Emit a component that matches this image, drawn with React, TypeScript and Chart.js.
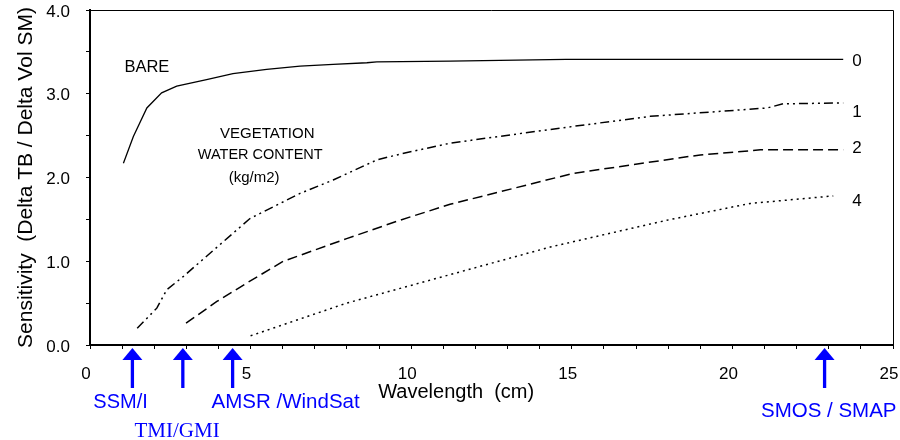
import React, { useEffect, useRef } from 'react';
import { Chart, registerables } from 'chart.js';

Chart.register(...registerables);

// ---- Data ----
const bareWavelength = [1.04, 1.35, 1.77, 2.23, 2.7, 3.63, 4.45, 5.5, 6.54, 7.57, 8.62, 8.93, 11.21, 14.82, 23.45];
const bareSensitivity = [2.17, 2.49, 2.83, 3.01, 3.09, 3.17, 3.24, 3.29, 3.33, 3.35, 3.37, 3.38, 3.39, 3.41, 3.41];

const vwc1Wavelength = [1.47, 2.08, 2.39, 2.91, 3.63, 4.98, 6.54, 7.57, 8.93, 9.66, 11.21, 14.84, 17.44, 21.08, 21.58, 23.45];
const vwc1Sensitivity = [0.2, 0.44, 0.66, 0.82, 1.06, 1.51, 1.81, 1.97, 2.21, 2.28, 2.41, 2.6, 2.73, 2.83, 2.88, 2.89];

const vwc2Wavelength = [2.99, 3.95, 4.88, 6.02, 7.99, 9.65, 11.21, 15.05, 19.0, 20.87, 23.45];
const vwc2Sensitivity = [0.26, 0.52, 0.74, 1.0, 1.27, 1.49, 1.68, 2.05, 2.27, 2.33, 2.33];

const vwc4Wavelength = [5.0, 7.99, 11.21, 14.33, 17.96, 20.55, 23.14];
const vwc4Sensitivity = [0.11, 0.5, 0.84, 1.17, 1.49, 1.69, 1.78];

const curveLabels = ['0', '1', '2', '4'];

const sensorNames = ['SSM/I', 'TMI/GMI', 'AMSR /WindSat', 'SMOS / SMAP'];
const sensorWavelength = [1.32, 2.89, 4.44, 22.87];

const xTickMin = 0;
const xTickMax = 25;
const yTickMin = 0;
const yTickMax = 4;

// ---- Layout / style (annotation placement) ----
const FONT = '"Liberation Sans", Arial, Helvetica, sans-serif';
const SERIF = '"Liberation Serif", "Times New Roman", serif';
const curveLabelX = 23.73;
const curveLabelY = [3.39, 2.78, 2.35, 1.72];
const sensorLabelCenterX = [0.95, 2.71, 6.09, 23.0];
const sensorLabelBaseline = [63, 92, 63, 72];
const sensorLabelFont = [`20px ${FONT}`, `21px ${SERIF}`, `20.5px ${FONT}`, `20.5px ${FONT}`];
const innerTexts = [
  { text: 'BARE', x: 1.77, y: 3.31, font: `16.5px ${FONT}` },
  { text: 'VEGETATION', x: 5.52, y: 2.52, font: `15px ${FONT}` },
  { text: 'WATER CONTENT', x: 5.3, y: 2.27, font: `14.5px ${FONT}` },
  { text: '(kg/m2)', x: 5.11, y: 1.995, font: `15px ${FONT}` },
];
const xTitle = { text: 'Wavelength  (cm)', x: 11.4, baseline: 53, font: `20px ${FONT}` };
const BLUE = '#0000FF';

const toPoints = (xs: number[], ys: number[]) => xs.map((x, i) => ({ x, y: ys[i] }));

const annotationPlugin = {
  id: 'annotations',
  afterDraw(chart: any) {
    const { ctx, chartArea: a, scales } = chart;
    const xs = scales.x;
    const ys = scales.y;
    ctx.save();
    // frame top & right
    ctx.strokeStyle = '#000';
    ctx.lineWidth = 1;
    ctx.beginPath();
    ctx.moveTo(a.left, a.top + 0.5);
    ctx.lineTo(a.right + 0.5, a.top + 0.5);
    ctx.lineTo(a.right + 0.5, a.bottom);
    ctx.stroke();

    // inner texts
    ctx.fillStyle = '#000';
    ctx.textAlign = 'center';
    ctx.textBaseline = 'middle';
    innerTexts.forEach((t) => {
      ctx.font = t.font;
      ctx.fillText(t.text, xs.getPixelForValue(t.x), ys.getPixelForValue(t.y));
    });

    // curve labels
    ctx.textAlign = 'left';
    ctx.font = `17px ${FONT}`;
    curveLabels.forEach((l, i) => {
      ctx.fillText(l, xs.getPixelForValue(curveLabelX), ys.getPixelForValue(curveLabelY[i]));
    });

    // x title
    ctx.textAlign = 'center';
    ctx.textBaseline = 'alphabetic';
    ctx.font = xTitle.font;
    ctx.fillText(xTitle.text, xs.getPixelForValue(xTitle.x), a.bottom + xTitle.baseline);

    // sensor arrows
    ctx.fillStyle = BLUE;
    ctx.strokeStyle = BLUE;
    sensorWavelength.forEach((w) => {
      const px = xs.getPixelForValue(w);
      const tip = a.bottom + 3;
      const base = a.bottom + 15;
      const tail = a.bottom + 43;
      ctx.lineWidth = 3.3;
      ctx.beginPath();
      ctx.moveTo(px, base - 1);
      ctx.lineTo(px, tail);
      ctx.stroke();
      ctx.beginPath();
      ctx.moveTo(px, tip);
      ctx.lineTo(px - 10, base);
      ctx.lineTo(px + 10, base);
      ctx.closePath();
      ctx.fill();
    });
    // sensor labels
    sensorNames.forEach((n, i) => {
      ctx.font = sensorLabelFont[i];
      ctx.fillText(n, xs.getPixelForValue(sensorLabelCenterX[i]), a.bottom + sensorLabelBaseline[i]);
    });
    ctx.restore();
  },
};

export default function App() {
  const ref = useRef<HTMLCanvasElement>(null);
  useEffect(() => {
    document.body.style.margin = '0';
    const canvas = ref.current;
    if (!canvas) return;
    const lineBase = { pointRadius: 0, borderColor: '#000', tension: 0, fill: false };
    const chart = new Chart(canvas, {
      type: 'line',
      data: {
        datasets: [
          { ...lineBase, label: '0', data: toPoints(bareWavelength, bareSensitivity), borderWidth: 1.3 },
          { ...lineBase, label: '1', data: toPoints(vwc1Wavelength, vwc1Sensitivity), borderWidth: 1.5, borderDash: [9, 4, 2, 4, 2, 4] },
          { ...lineBase, label: '2', data: toPoints(vwc2Wavelength, vwc2Sensitivity), borderWidth: 1.5, borderDash: [10, 5] },
          { ...lineBase, label: '4', data: toPoints(vwc4Wavelength, vwc4Sensitivity), borderWidth: 1.5, borderDash: [2, 4] },
        ],
      },
      options: {
        responsive: false,
        animation: false,
        layout: { padding: { top: 10, right: 7, left: 0, bottom: 0 } },
        plugins: { legend: { display: false }, tooltip: { enabled: false } },
        scales: {
          x: {
            type: 'linear',
            min: xTickMin,
            max: xTickMax,
            afterFit: (s: any) => { s.height = 95; s.paddingLeft = 0; s.paddingRight = 0; },
            border: { display: true, color: '#000', width: 2 },
            grid: { display: true, drawOnChartArea: false, drawTicks: true, tickLength: 4, color: '#000', lineWidth: 1 },
            ticks: {
              stepSize: 1,
              autoSkip: false,
              maxRotation: 0,
              padding: 15,
              labelOffset: -4,
              color: '#000',
              font: { family: FONT, size: 17 },
              callback: (v: any) => (Number(v) % 5 === 0 ? String(v) : ''),
            },
          },
          y: {
            type: 'linear',
            min: yTickMin,
            max: yTickMax,
            afterFit: (s: any) => { s.width = 90; s.paddingTop = 0; s.paddingBottom = 0; },
            border: { display: true, color: '#000', width: 2 },
            grid: { display: true, drawOnChartArea: false, drawTicks: true, tickLength: 4, color: '#000', lineWidth: 1 },
            title: {
              display: true,
              text: 'Sensitivity  (Delta TB / Delta Vol SM)',
              color: '#000',
              font: { family: FONT, size: 21 },
              padding: { top: 14, bottom: 0 },
            },
            ticks: {
              stepSize: 0.5,
              autoSkip: false,
              padding: 16,
              labelOffset: 2,
              color: '#000',
              font: { family: FONT, size: 17 },
              callback: (v: any) => (Number.isInteger(Number(v)) ? Number(v).toFixed(1) : ''),
            },
          },
        },
      },
      plugins: [annotationPlugin],
    } as any);
    return () => chart.destroy();
  }, []);
  return (
    <div style={{ width: 900, height: 440, background: '#fff' }}>
      <canvas ref={ref} width={900} height={440} style={{ display: 'block' }} />
    </div>
  );
}
